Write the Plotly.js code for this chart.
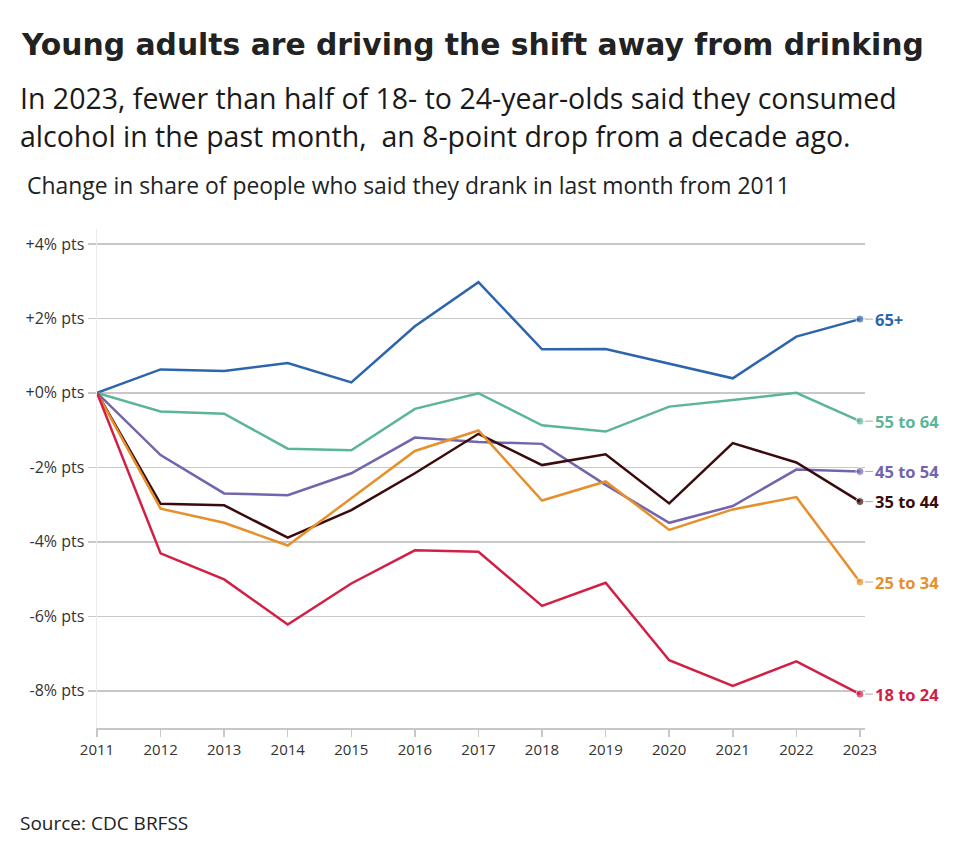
<!DOCTYPE html>
<html>
<head>
<meta charset="utf-8">
<script src="https://cdn.plot.ly/plotly-3.0.1.min.js"></script>
<style>
  html, body { margin: 0; padding: 0; background: #fff; }
  #chart { width: 960px; height: 855px; }
</style>
</head>
<body>
<div id="chart"></div>
<script>
// years on the x axis
var years = [2011, 2012, 2013, 2014, 2015, 2016, 2017, 2018, 2019, 2020, 2021, 2022, 2023];

// change in share (percentage points) vs 2011
var age65plus = [0, 0.63, 0.59, 0.80, 0.28, 1.79, 2.97, 1.17, 1.18, 0.78, 0.39, 1.51, 1.98];
var age55to64 = [0, -0.50, -0.56, -1.50, -1.54, -0.43, -0.01, -0.87, -1.04, -0.37, -0.19, 0, -0.76];
var age45to54 = [0, -1.67, -2.70, -2.75, -2.16, -1.20, -1.32, -1.37, -2.47, -3.49, -3.04, -2.06, -2.11];
var age35to44 = [0, -2.98, -3.02, -3.89, -3.15, -2.16, -1.10, -1.94, -1.65, -2.97, -1.35, -1.87, -2.92];
var age25to34 = [0, -3.11, -3.49, -4.10, -2.83, -1.56, -1.01, -2.89, -2.38, -3.68, -3.13, -2.80, -5.08];
var age18to24 = [0, -4.31, -5.01, -6.22, -5.12, -4.23, -4.27, -5.72, -5.10, -7.18, -7.87, -7.21, -8.09];

var seriesNames = ['65+', '55 to 64', '45 to 54', '35 to 44', '25 to 34', '18 to 24'];
var seriesValues = [age65plus, age55to64, age45to54, age35to44, age25to34, age18to24];
var seriesColors = ['#2d64ae', '#5cb597', '#7364ae', '#3a0b0c', '#e78f2a', '#d21f45'];

var yTickVals = [4, 2, 0, -2, -4, -6, -8];
var yTickText = ['+4% pts', '+2% pts', '+0% pts', '-2% pts', '-4% pts', '-6% pts', '-8% pts'];

var lastIdx = years.length - 1;
var endSizes = years.map(function (y, i) { return i === lastIdx ? 8 : 0; });

var traces = [];
var labels = [];
for (var i = 0; i < seriesNames.length; i++) {
  traces.push({
    x: years,
    y: seriesValues[i],
    name: seriesNames[i],
    type: 'scatter',
    mode: 'lines+markers',
    line: { color: seriesColors[i], width: 2.5 },
    marker: { color: seriesColors[i], size: endSizes },
    hoverinfo: 'skip'
  });
  labels.push({
    x: years[lastIdx],
    y: seriesValues[i][lastIdx],
    xref: 'x', yref: 'y',
    text: '<b>' + seriesNames[i] + '</b>',
    showarrow: true,
    arrowhead: 0,
    arrowwidth: 1,
    arrowcolor: '#aaaaaa',
    ax: 13, ay: 0,
    standoff: 5,
    xanchor: 'left',
    yanchor: 'middle',
    font: { family: 'Open Sans', size: 16.5, color: seriesColors[i] }
  });
}

// paper y for a pixel row (plot area spans 229..728 px)
function py(px) { return (727.8 - px) / 498.5; }
function pxX(px) { return (px - 97) / 768; }

var texts = [
  { t: '<b>Young adults are driving the shift away from drinking</b>', x: 19, y: 45, size: 29.8, font: 'DejaVu Sans', color: '#222' },
  { t: 'In 2023, fewer than half of 18- to 24-year-olds said they consumed', x: 18, y: 98, size: 28.5, font: 'Open Sans', color: '#1a1a1a' },
  { t: 'alcohol in the past month,  an 8-point drop from a decade ago.', x: 18, y: 136, size: 28.5, font: 'Open Sans', color: '#1a1a1a' },
  { t: 'Change in share of people who said they drank in last month from 2011', x: 25, y: 186, size: 22.9, font: 'Open Sans', color: '#222' },
  { t: 'Source: CDC BRFSS', x: 18, y: 823, size: 19, font: 'Open Sans', color: '#222' }
];
texts.forEach(function (d) {
  labels.push({
    text: d.t,
    xref: 'paper', yref: 'paper',
    x: pxX(d.x), y: py(d.y),
    xanchor: 'left', yanchor: 'middle',
    showarrow: false,
    font: { family: d.font, size: d.size, color: d.color }
  });
});

var layout = {
  width: 960,
  height: 855,
  paper_bgcolor: '#fff',
  plot_bgcolor: '#fff',
  showlegend: false,
  margin: { l: 97, r: 95, t: 229, b: 127 },
  xaxis: {
    range: [2011, 2023.08],
    tickvals: years,
    ticks: 'outside',
    ticklen: 7,
    tickcolor: '#c8c8c8',
    tickwidth: 1.5,
    showgrid: false,
    showline: true,
    linecolor: '#c8c8c8',
    linewidth: 1.5,
    zeroline: false,
    tickfont: { family: 'Open Sans', size: 15, color: '#333' }
  },
  yaxis: {
    range: [-9, 4.4],
    tickvals: yTickVals,
    ticktext: yTickText,
    ticks: 'outside',
    ticklen: 8,
    tickcolor: '#c8c8c8',
    tickwidth: 1.5,
    showgrid: true,
    gridcolor: '#c8c8c8',
    gridwidth: 1.5,
    showline: true,
    linecolor: '#ebebeb',
    linewidth: 1.5,
    zeroline: false,
    tickfont: { family: 'Open Sans', size: 16, color: '#333' }
  },
  annotations: labels
};

Plotly.newPlot('chart', traces, layout, { staticPlot: true, displayModeBar: false });
</script>
</body>
</html>
